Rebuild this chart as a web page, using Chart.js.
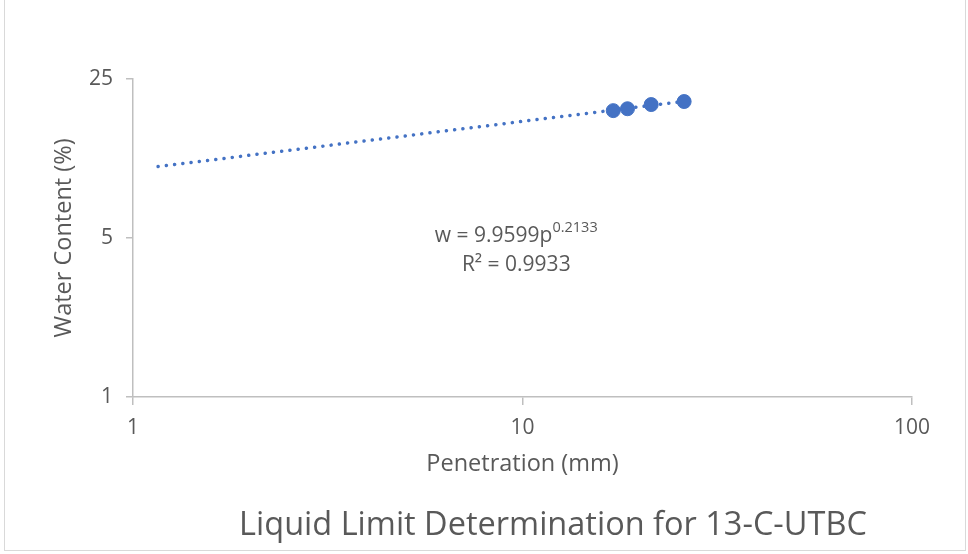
<!DOCTYPE html>
<html>
<head>
<meta charset="utf-8">
<script src="https://cdn.jsdelivr.net/npm/chart.js@4.4.1/dist/chart.umd.min.js"></script>
<style>
  body { margin: 0; background: #fff; }
  #wrap { position: relative; width: 968px; height: 554px; }
  #frame { position: absolute; left: 4px; top: -2px; width: 962px; height: 553px; border: 1px solid #d9d9d9; box-sizing: border-box; pointer-events: none; }
</style>
</head>
<body>
<div id="wrap">
  <canvas id="chart" width="968" height="554"></canvas>
  <div id="frame"></div>
</div>
<script>
// measured points (penetration mm, water content %)
const penetration = [17.1, 18.6, 21.4, 26.0];
const waterContent = [18.15, 18.5, 19.3, 19.9];
// power trendline, end points
const trendX = [1.16, 26.0];
const trendY = [10.3, 19.95];
const xTicks = [1, 10, 100];
const yTicks = [1, 5, 25];

const blue = '#4472c4';
const grey = '#595959';
const axisGrey = '#bfbfbf';
const font = '"Open Sans", sans-serif';
const titleText = 'Liquid Limit Determination for 13-C-UTBC';

const ptData = penetration.map((p, i) => ({ x: p, y: waterContent[i] }));
const trendData = trendX.map((p, i) => ({ x: p, y: trendY[i] }));

// equation label + chart title (title sits off-centre, like the excel one)
const extraText = {
  id: 'extraText',
  afterDatasetsDraw(chart) {
    const { ctx, chartArea } = chart;
    const cx = chartArea.left + (chartArea.right - chartArea.left) * 0.492;
    ctx.save();
    ctx.fillStyle = grey;
    ctx.textBaseline = 'alphabetic';
    const main = 'w = 9.9599p';
    ctx.font = '21px ' + font;
    const w1 = ctx.measureText(main).width;
    ctx.font = '14.5px ' + font;
    const w2 = ctx.measureText('0.2133').width;
    const x = cx - (w1 + w2) / 2;
    ctx.font = '21px ' + font;
    ctx.textAlign = 'left';
    ctx.fillText(main, x, 242);
    ctx.font = '14.5px ' + font;
    ctx.fillText('0.2133', x + w1, 232);
    ctx.font = '21px ' + font;
    ctx.textAlign = 'center';
    ctx.fillText('R² = 0.9933', cx, 271);

    ctx.font = '32.5px ' + font;
    ctx.textBaseline = 'middle';
    ctx.fillText(titleText, 553, 526);
    ctx.restore();
  }
};

new Chart(document.getElementById('chart'), {
  type: 'scatter',
  data: {
    datasets: [{
      label: 'Trend',
      data: trendData,
      showLine: true,
      borderColor: blue,
      borderWidth: 3.5,
      borderDash: [0.1, 8.2],
      borderCapStyle: 'round',
      pointRadius: 0,
      order: 2
    }, {
      label: 'Water content',
      data: ptData,
      backgroundColor: blue,
      borderColor: blue,
      pointRadius: 7,
      pointHoverRadius: 7,
      order: 1
    }]
  },
  options: {
    responsive: false,
    animation: false,
    layout: { padding: { left: 0, right: 56, top: 79, bottom: 48 } },
    plugins: {
      legend: { display: false },
      tooltip: { enabled: false },
      title: { display: false }
    },
    scales: {
      x: {
        type: 'logarithmic',
        min: 1,
        max: 100,
        afterBuildTicks(s) { s.ticks = xTicks.map(v => ({ value: v })); },
        afterFit(s) { s.height = 109; },
        grid: { drawOnChartArea: false, color: axisGrey, tickLength: 8, lineWidth: 1.5 },
        border: { color: axisGrey, width: 1.5 },
        ticks: { color: grey, font: { family: font, size: 21 }, padding: 10, callback: v => String(v) },
        title: { display: true, text: 'Penetration (mm)', color: grey, font: { family: font, size: 23.5 }, padding: { top: 0, bottom: 28 } }
      },
      y: {
        type: 'logarithmic',
        min: 1,
        max: 25,
        afterBuildTicks(s) { s.ticks = yTicks.map(v => ({ value: v })); },
        afterFit(s) { s.width = 133; },
        grid: { drawOnChartArea: false, color: axisGrey, tickLength: 7, lineWidth: 1.5 },
        border: { color: axisGrey, width: 1.5 },
        ticks: { color: grey, font: { family: font, size: 21 }, padding: 13, callback: v => String(v) },
        title: { display: true, text: 'Water Content (%)', color: grey, font: { family: font, size: 23.5 }, padding: { top: 50, bottom: 0 } }
      }
    }
  },
  plugins: [extraText]
});
</script>
</body>
</html>
